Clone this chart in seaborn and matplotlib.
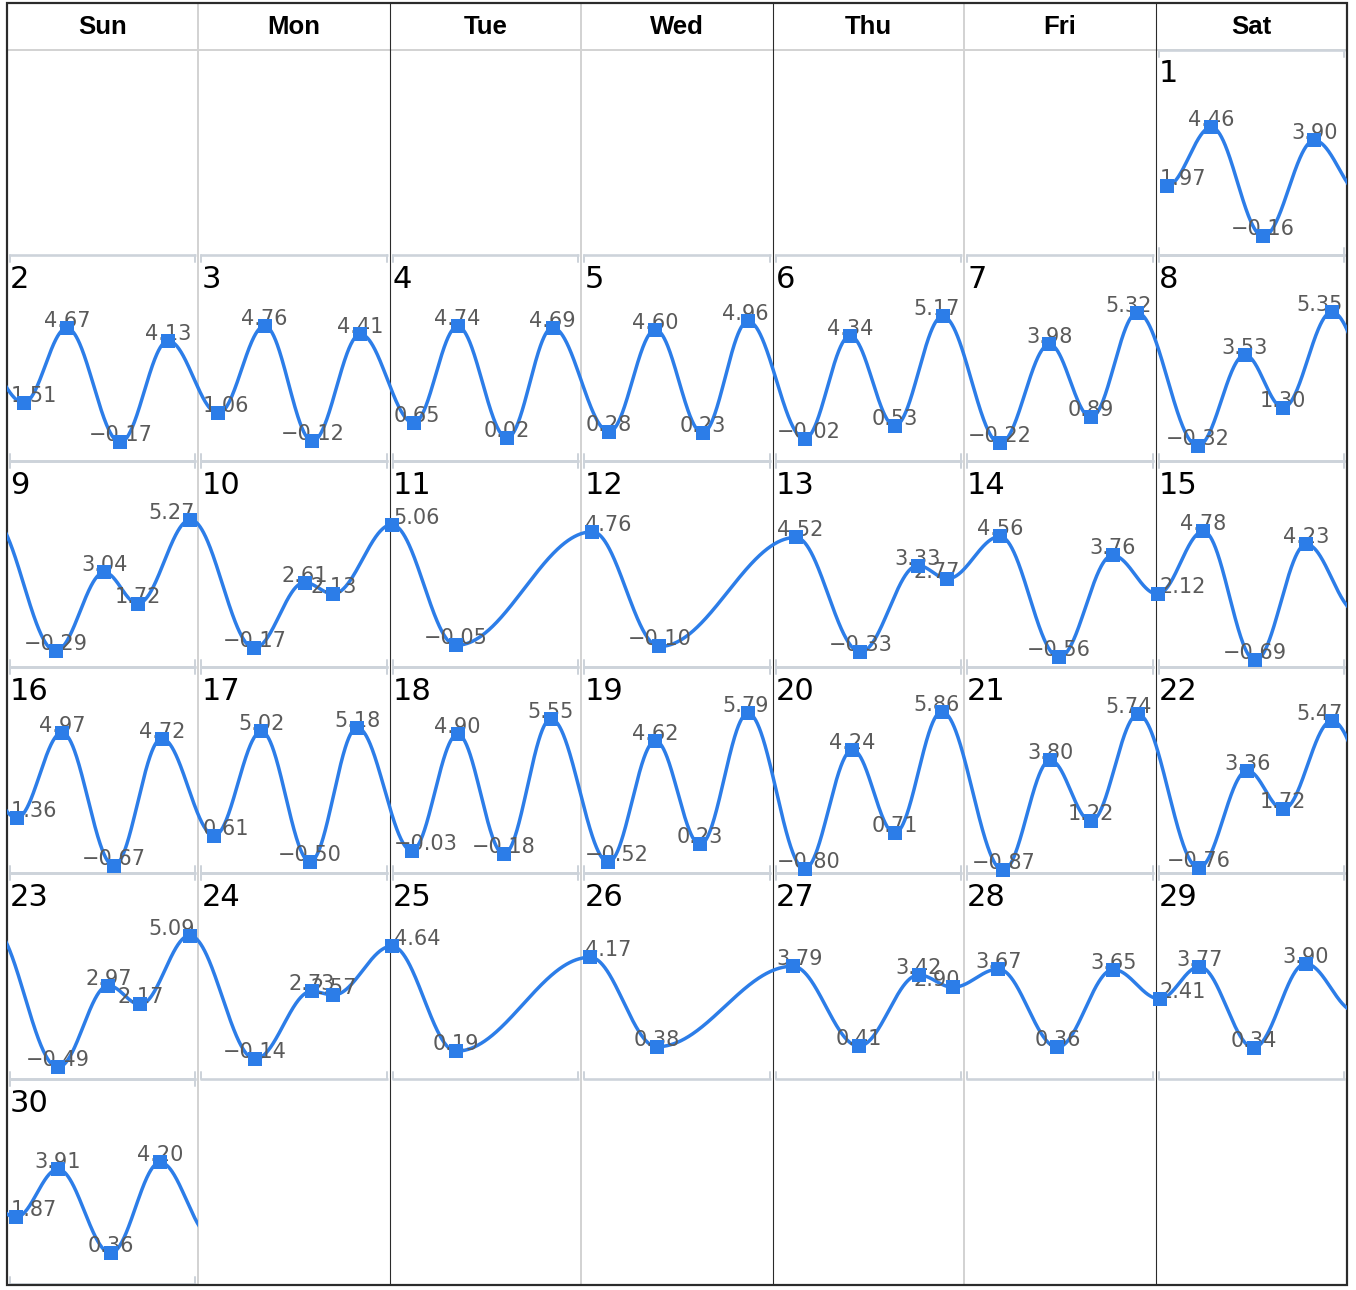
import numpy as np
import matplotlib
matplotlib.use("Agg")
import matplotlib.pyplot as plt
import seaborn as sns
from matplotlib.patches import Rectangle

# ---------------- data ----------------
weekday_labels = ["Sun", "Mon", "Tue", "Wed", "Thu", "Fri", "Sat"]
first_weekday = 6          # day 1 falls on Saturday
day_numbers = list(range(1, 31))

# hour of day of each high / low tide
tide_hours = [
    [1.4, 7.0, 13.5, 19.9],    # 1
    [2.1, 7.5, 14.2, 20.2],    # 2
    [2.5, 8.3, 14.3, 20.3],    # 3
    [3.0, 8.5, 14.7, 20.4],    # 4
    [3.5, 9.3, 15.2, 20.9],    # 5
    [4.0, 9.7, 15.3, 21.3],    # 6
    [4.5, 10.7, 15.9, 21.7],   # 7
    [5.3, 11.2, 16.0, 22.1],   # 8
    [6.1, 12.2, 16.4, 23.0],   # 9
    [7.0, 13.3, 16.9],         # 10
    [0.25, 8.3],               # 11
    [1.4, 9.8],                # 12
    [2.9, 11.0, 18.2, 21.9],   # 13
    [4.5, 11.9, 18.6],         # 14
    [0.25, 6.0, 12.5, 18.9],   # 15
    [1.25, 6.9, 13.4, 19.4],   # 16
    [2.0, 7.9, 14.0, 19.9],    # 17
    [2.75, 8.5, 14.3, 20.2],   # 18
    [3.4, 9.3, 14.9, 20.9],    # 19
    [4.0, 10.0, 15.3, 21.2],   # 20
    [4.9, 10.8, 15.9, 21.8],   # 21
    [5.4, 11.5, 16.0, 22.1],   # 22
    [6.4, 12.7, 16.7, 22.9],   # 23
    [7.1, 14.2, 16.9],         # 24
    [0.25, 8.3],               # 25
    [1.1, 9.5],                # 26
    [2.5, 10.8, 18.3, 22.6],   # 27
    [4.3, 11.7, 18.7],         # 28
    [0.5, 5.5, 12.3, 18.8],    # 29
    [1.1, 6.4, 13.0, 19.2],    # 30
]
# tide heights at those times
tide_heights = [
    [1.97, 4.46, -0.16, 3.90],
    [1.51, 4.67, -0.17, 4.13],
    [1.06, 4.76, -0.12, 4.41],
    [0.65, 4.74, 0.02, 4.69],
    [0.28, 4.60, 0.23, 4.96],
    [-0.02, 4.34, 0.53, 5.17],
    [-0.22, 3.98, 0.89, 5.32],
    [-0.32, 3.53, 1.30, 5.35],
    [-0.29, 3.04, 1.72, 5.27],
    [-0.17, 2.61, 2.13],
    [5.06, -0.05],
    [4.76, -0.10],
    [4.52, -0.33, 3.33, 2.77],
    [4.56, -0.56, 3.76],
    [2.12, 4.78, -0.69, 4.23],
    [1.36, 4.97, -0.67, 4.72],
    [0.61, 5.02, -0.50, 5.18],
    [-0.03, 4.90, -0.18, 5.55],
    [-0.52, 4.62, 0.23, 5.79],
    [-0.80, 4.24, 0.71, 5.86],
    [-0.87, 3.80, 1.22, 5.74],
    [-0.76, 3.36, 1.72, 5.47],
    [-0.49, 2.97, 2.17, 5.09],
    [-0.14, 2.73, 2.57],
    [4.64, 0.19],
    [4.17, 0.38],
    [3.79, 0.41, 3.42, 2.90],
    [3.67, 0.36, 3.65],
    [2.41, 3.77, 0.34, 3.90],
    [1.87, 3.91, 0.36, 4.20],
]
# first tide of the following month (only the curve end of day 30 shows it)
next_month_hours = [1.8]
next_month_heights = [1.0]

# ---------------- style ----------------
sns.set_style("white")
plt.rcParams["font.family"] = ["DejaVu Sans"]

BLUE = "#2c7de8"
LABEL_GREY = "#5a5a5a"
CELL_GREY = "#cdd3da"
COL_GREY = "#d3d3d3"
DARK = "#2b2b2b"

W_PX, H_PX = 1356, 1290
fig = plt.figure(figsize=(W_PX / 100, H_PX / 100), dpi=100)
fig.patch.set_facecolor("white")

bg = fig.add_axes([0, 0, 1, 1], zorder=0)
bg.set_xlim(0, W_PX)
bg.set_ylim(H_PX, 0)
bg.axis("off")

col_x = 7 + 191.43 * np.arange(8)
row_y = 49.5 + 205.8 * np.arange(7)
TOP, BOTTOM = 3, 1285
px = 0.72  # points per pixel

# column lines
for c in range(1, 7):
    if c % 2 == 1:
        bg.plot([col_x[c], col_x[c]], [TOP, BOTTOM], color=COL_GREY, lw=2 * px, zorder=1)
    else:
        bg.plot([col_x[c], col_x[c]], [TOP, BOTTOM], color=DARK, lw=1.1 * px, zorder=2)
# header bottom line
bg.plot([col_x[0], col_x[7]], [row_y[0], row_y[0]], color=COL_GREY, lw=2 * px, zorder=1)
# outer frame
bg.add_patch(Rectangle((col_x[0], TOP), col_x[7] - col_x[0], BOTTOM - TOP,
                       fill=False, ec=DARK, lw=2.2 * px, zorder=3))
# headers
for c, lab in enumerate(weekday_labels):
    bg.text((col_x[c] + col_x[c + 1]) / 2, 27, lab, ha="center", va="center",
            fontsize=18.5, fontweight="bold", family=["Liberation Sans", "DejaVu Sans"],
            color="black")

# global time series (hours since start of month)
abs_t = np.concatenate([(d - 1) * 24 + np.array(h, float) for d, h in zip(day_numbers, tide_hours)]
                       + [len(day_numbers) * 24 + np.array(next_month_hours, float)])
abs_v = np.concatenate([np.array(v, float) for v in tide_heights] + [np.array(next_month_heights, float)])


def smooth_curve(t):
    i = np.clip(np.searchsorted(abs_t, t) - 1, 0, len(abs_t) - 2)
    f = (t - abs_t[i]) / (abs_t[i + 1] - abs_t[i])
    return abs_v[i] + (abs_v[i + 1] - abs_v[i]) * (1 - np.cos(np.pi * f)) / 2


Y_TOP = 183 / 23.6
Y_BOT = (183 - 205.8) / 23.6

labels = []
for d, hrs, vals in zip(day_numbers, tide_hours, tide_heights):
    idx = d - 1 + first_weekday
    r, c = divmod(idx, 7)
    L, R = col_x[c], col_x[c + 1]
    T, B = row_y[r], row_y[r + 1]

    # cell frame (top / bottom with end ticks)
    for yy, dy in ((T, 7), (B, -7)):
        bg.plot([L + 2, R - 2], [yy, yy], color=CELL_GREY, lw=2.6 * px, zorder=1,
                solid_capstyle="butt")
        for xx in (L + 3, R - 3):
            bg.plot([xx, xx], [yy, yy + dy], color=CELL_GREY, lw=2 * px, zorder=1)
    bg.text(L + 3, T + 33, str(d), ha="left", va="baseline", fontsize=22, color="black")

    ax = fig.add_axes([L / W_PX, 1 - B / H_PX, (R - L) / W_PX, (B - T) / H_PX], zorder=2)
    ax.set_xlim(0, 24)
    ax.set_ylim(Y_BOT, Y_TOP)
    ax.axis("off")

    t0 = (d - 1) * 24
    ts = np.linspace(max(t0 - 1, abs_t[0]), min(t0 + 25, abs_t[-1]), 600)
    sns.lineplot(x=ts - t0, y=smooth_curve(ts), ax=ax, color=BLUE, linewidth=2.5,
                 sort=False, estimator=None, zorder=2)

    # neighbouring days' points (clipped to the cell)
    own = set(np.round(t0 + np.array(hrs), 4))
    nb = [(t - t0, v) for t, v in zip(abs_t, abs_v)
          if t0 - 2 < t < t0 + 26 and round(t, 4) not in own]
    if nb:
        sns.scatterplot(x=[p[0] for p in nb], y=[p[1] for p in nb], ax=ax, marker="s",
                        s=90, color=BLUE, linewidth=0, zorder=4, legend=False)
    # own points
    sns.scatterplot(x=hrs, y=vals, ax=ax, marker="s", s=90, color=BLUE, linewidth=0,
                    zorder=4, legend=False, clip_on=False)
    for h, v in zip(hrs, vals):
        txt = f"{v:.2f}".replace("-", "\u2212")
        ann = ax.annotate(txt, (h, v), xytext=(0, 1), textcoords="offset pixels",
                          ha="center", va="baseline", fontsize=15, color=LABEL_GREY,
                          zorder=3, annotation_clip=False)
        labels.append((ann, L, R))

# keep labels inside their cells
fig.canvas.draw()
renderer = fig.canvas.get_renderer()
for ann, L, R in labels:
    bb = ann.get_window_extent(renderer)
    shift = 0
    if bb.x0 < L + 4:
        shift = L + 4 - bb.x0
    elif bb.x1 > R - 4:
        shift = R - 4 - bb.x1
    if shift:
        ann.xyann = (shift, 1)

fig.savefig("out.png", dpi=100, facecolor="white")
